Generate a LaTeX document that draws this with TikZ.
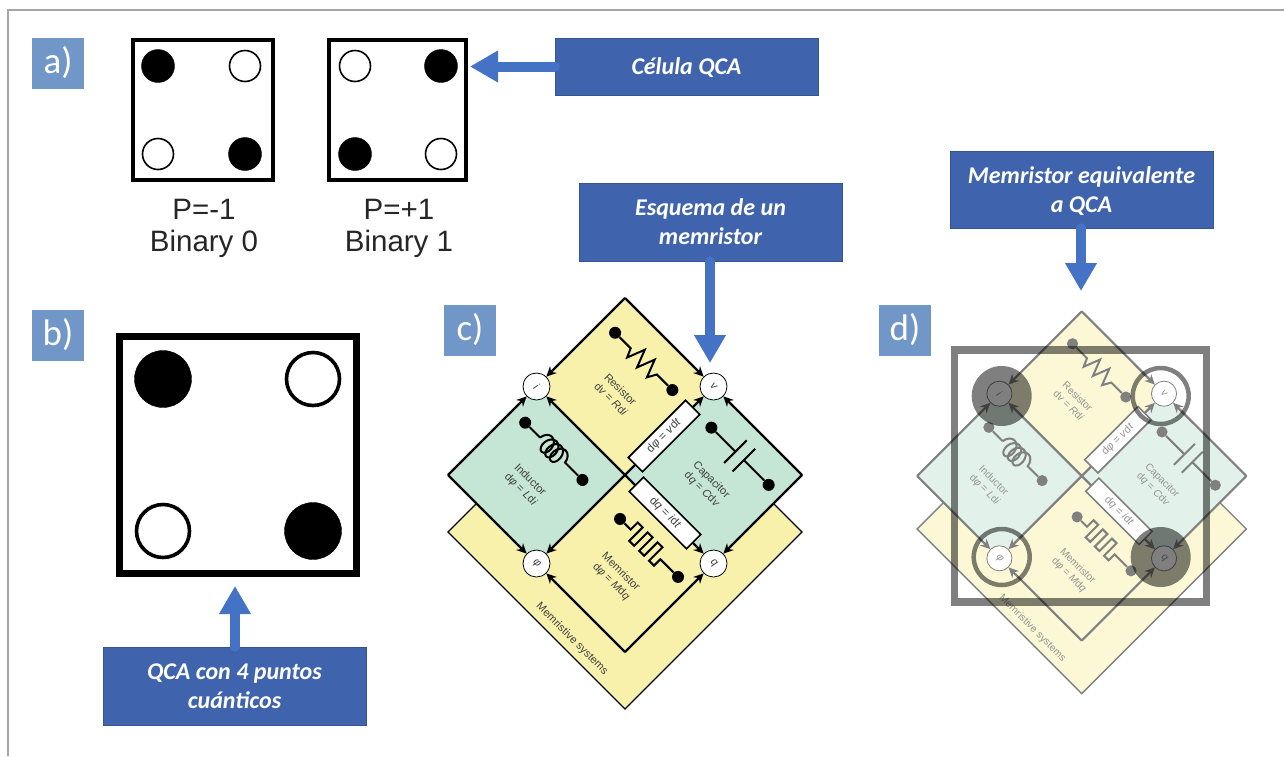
\documentclass[tikz,border=0pt]{standalone}
\usepackage{xcolor}
\usepackage{fontspec}
\setmainfont{Liberation Sans}
\newfontfamily\calibri{Carlito}
\usetikzlibrary{calc,arrows,arrows.meta,decorations.pathmorphing}

\definecolor{labelblue}{HTML}{7097C8}
\definecolor{boxblue}{HTML}{3F63AC}
\definecolor{arrowblue}{HTML}{4472C4}
\definecolor{cellyellow}{HTML}{F8F1AC}
\definecolor{cellgreen}{HTML}{C5E5D5}
\definecolor{fadeyellow}{HTML}{FCF8D6}
\definecolor{fadegreen}{HTML}{E2F2EA}

\tikzset{
    panel/.style={fill=labelblue, minimum width=52pt, minimum height=51pt, inner sep=0pt,
        text=white, font=\calibri\fontsize{37}{37}\selectfont},
    callout/.style={fill=boxblue, draw=boxblue!85!black, line width=.6pt, minimum width=263pt,
        inner sep=0pt, align=center, text=white, text depth=0pt,
        font=\calibri\fontsize{24}{29}\selectfont\bfseries\itshape},
    blockarrow/.style={draw=arrowblue, line width=10pt, line cap=round,
        -{Triangle[length=28pt,width=30pt]}},
    caption/.style={align=center, text=black!85, font=\fontsize{29.5}{32}\selectfont},
    full/.style={circle, fill=black, draw=black, inner sep=0pt},
    empty/.style={circle, fill=white, draw=black, inner sep=0pt},
    state/.style={circle, fill=white, draw=ink, line width=.8pt, minimum size=27pt,
        inner sep=0pt, font=\fontsize{11}{11}\selectfont\itshape, text=inkt, rotate=-45},
    edge/.style={draw=ink, line width=2.2pt, ->, >={Stealth[length=10pt,width=9.5pt]}},
    part/.style={draw=ink, line width=2pt},
    dot/.style={circle, fill=ink, inner sep=0pt, minimum size=12pt},
    law/.style={align=center, text=inkt, rotate=-45, font=\fontsize{11}{13.5}\selectfont},
    tag/.style={fill=white, draw=ink, line width=1.6pt, minimum width=81pt, minimum height=20pt,
        inner sep=0pt, text=inkt, font=\fontsize{11.5}{11.5}\selectfont}
}

% #1 prefix of the names, #2 yellow, #3 green
\newcommand{\memdiagram}[3]{
    \fill[#2, draw=ink, line width=1.3pt] (-177,57) -- (0,-120) -- (177,57) -- (0,234) -- cycle;
    \fill[#2] (0,-177) -- (88.5,-88.5) -- (0,0) -- (-88.5,-88.5) -- cycle;
    \fill[#2] (0,177) -- (88.5,88.5) -- (0,0) -- (-88.5,88.5) -- cycle;
    \fill[#3] (-177,0) -- (-88.5,-88.5) -- (0,0) -- (-88.5,88.5) -- cycle;
    \fill[#3] (177,0) -- (88.5,-88.5) -- (0,0) -- (88.5,88.5) -- cycle;
    \node[law, text=inkt, transform shape] (#1sys) at (-53,164) {Memristive systems};

    \node[state, transform shape] (#1i) at (-88.5,-88.5) {i};
    \node[state, transform shape] (#1v) at (88.5,-88.5) {v};
    \node[state, transform shape] (#1p) at (-88.5,88.5) {φ};
    \node[state, transform shape] (#1q) at (88.5,88.5) {q};

    \coordinate (#1top) at (0,-177);
    \coordinate (#1left) at (-177,0);
    \coordinate (#1right) at (177,0);
    \coordinate (#1bot) at (0,177);
    \coordinate (#1mid) at (0,0);
    \draw[edge] (#1top) -- (#1i);
    \draw[edge] (#1top) -- (#1v);
    \draw[edge] (#1left) -- (#1i);
    \draw[edge] (#1left) -- (#1p);
    \draw[edge] (#1right) -- (#1v);
    \draw[edge] (#1right) -- (#1q);
    \draw[edge] (#1bot) -- (#1p);
    \draw[edge] (#1bot) -- (#1q);
    \draw[edge] (#1mid) -- (#1i);
    \draw[edge] (#1mid) -- (#1v);
    \draw[edge] (#1mid) -- (#1p);
    \draw[edge] (#1mid) -- (#1q);

    \node[tag, rotate=45, transform shape] (#1vdt) at (39,-39) {d\textit{φ} = \textit{v}d\textit{t}};
    \node[tag, rotate=-45, transform shape] (#1idt) at (40,38) {d\textit{q} = \textit{i}d\textit{t}};

    % resistor
    \begin{scope}[shift={(0,-88.5)}, rotate=-45]
        \node[dot, transform shape] (#1ra) at (-45,-31) {};
        \node[dot, transform shape] (#1rb) at (36,-31) {};
        \draw[part] (#1ra) -- (-23,-31) -- (-19,-22) -- (-12,-40) -- (-5,-22) -- (2,-40)
            -- (9,-22) -- (14,-31) -- (#1rb);
        \node[law, rotate=45, transform shape] (#1rlaw) at (-1,12) {Resistor\\d\textit{v} = \textit{R}d\textit{i}};
    \end{scope}
    % inductor
    \begin{scope}[shift={(-88.5,0)}, rotate=-45]
        \node[dot, transform shape] (#1la) at (-45,-29) {};
        \node[dot, transform shape] (#1lb) at (36,-29) {};
        \draw[part] (#1la) -- (-24,-29);
        \draw[part, decorate, decoration={coil, aspect=.7, amplitude=9pt, segment length=6.5pt}]
            (-24,-29) -- (16,-29);
        \draw[part] (16,-29) -- (#1lb);
        \node[law, rotate=45, transform shape] (#1llaw) at (-1,15) {Inductor\\d\textit{φ} = \textit{L}d\textit{i}};
    \end{scope}
    % capacitor
    \begin{scope}[shift={(88.5,0)}, rotate=-45]
        \node[dot, transform shape] (#1ca) at (-35,-32) {};
        \node[dot, transform shape] (#1cb) at (46,-32) {};
        \coordinate (#1cl) at (-1,-32);
        \coordinate (#1cr) at (11,-32);
        \draw[part] (#1ca) -- (#1cl);
        \draw[part] (#1cr) -- (#1cb);
        \draw[part] (-1,-48) -- (-1,-16);
        \draw[part] (11,-48) -- (11,-16);
        \node[law, rotate=45, transform shape] (#1claw) at (2,12) {Capacitor\\d\textit{q} = \textit{C}d\textit{v}};
    \end{scope}
    % memristor
    \begin{scope}[shift={(0,88.5)}, rotate=-45]
        \node[dot, transform shape] (#1ma) at (-35,-28) {};
        \node[dot, transform shape] (#1mb) at (47,-28) {};
        \draw[part] (#1ma) -- (-20,-28) -- (-20,-38) -- (-13,-38) -- (-13,-19) -- (-6,-19)
            -- (-6,-38) -- (1,-38) -- (1,-19) -- (8,-19) -- (8,-38) -- (15,-38) -- (15,-19)
            -- (22,-19) -- (22,-28) -- (#1mb);
        \node[law, rotate=45, transform shape] (#1mlaw) at (3,16) {Memristor\\d\textit{φ} = \textit{M}d\textit{q}};
    \end{scope}
}

\begin{document}
\begin{tikzpicture}[x=1pt, y=-1pt]
    \useasboundingbox (0,0) rectangle (1284,756);
    \fill[white] (0,0) rectangle (1284,756);
    \draw[black!35, line width=1.4pt] (1284,10) -- (8,10) -- (8,756);

    \node[panel] (a) at (58,63) {a)};
    \node[panel] (b) at (58,335) {b)};
    \node[panel] (c) at (470,330) {c)};
    \node[panel] (d) at (905,330) {d)};

    % cells of panel a
    \draw[line width=3.6pt] (133,40) rectangle (273,180);
    \node[full, minimum size=33pt] (a1) at (158,66) {};
    \node[empty, line width=1.6pt, minimum size=31pt] (a2) at (245,66) {};
    \node[empty, line width=1.6pt, minimum size=31pt] (a3) at (158,154) {};
    \node[full, minimum size=33pt] (a4) at (245,154) {};
    \draw[line width=3.6pt] (329,40) rectangle (466,180);
    \node[empty, line width=1.6pt, minimum size=31pt] (a5) at (355,66) {};
    \node[full, minimum size=33pt] (a6) at (441,66) {};
    \node[full, minimum size=33pt] (a7) at (355,154) {};
    \node[empty, line width=1.6pt, minimum size=31pt] (a8) at (441,154) {};
    \node[caption] (zero) at (204,228) {P=-1\\Binary 0};
    \node[caption] (one) at (399,228) {P=+1\\Binary 1};

    % cell of panel b
    \draw[line width=7pt] (119,336) rectangle (356,573);
    \node[full, minimum size=57pt] (b1) at (163,379) {};
    \node[empty, line width=3.6pt, minimum size=53pt] (b2) at (313,379) {};
    \node[empty, line width=3.6pt, minimum size=53pt] (b3) at (163,531) {};
    \node[full, minimum size=57pt] (b4) at (313,531) {};

    % panel c
    \colorlet{ink}{black}
    \colorlet{inkt}{black!75}
    \begin{scope}[shift={(625,475)}]
        \memdiagram{c}{cellyellow}{cellgreen}
    \end{scope}

    % panel d
    \colorlet{ink}{black!50}
    \colorlet{inkt}{black!42}
    \begin{scope}[shift={(1081.7,476)}, scale=.93]
        \memdiagram{d}{fadeyellow}{fadegreen}
    \end{scope}
    \begin{scope}[opacity=.5]
        \draw[line width=7.3pt] (954.5,350) rectangle (1206.5,602);
        \node[full, draw=none, minimum size=60pt] (d1) at (1001.7,396) {};
        \node[circle, draw=black, line width=4.5pt, minimum size=56pt, inner sep=0pt] (d2) at (1160.7,396) {};
        \node[circle, draw=black, line width=4.5pt, minimum size=56pt, inner sep=0pt] (d3) at (1001.7,557) {};
        \node[full, draw=none, minimum size=60pt] (d4) at (1160.7,557) {};
    \end{scope}

    % callouts
    \node[callout, minimum height=57pt] (celula) at (686.5,66.5) {Célula QCA};
    \node[callout, minimum height=78pt] (esquema) at (710.5,222) {Esquema de un\\memristor};
    \node[callout, minimum height=77pt] (equiv) at (1081.5,189.5) {Memristor equivalente\\a QCA};
    \node[callout, minimum height=78pt] (puntos) at (234.5,686) {QCA con 4 puntos\\cuánticos};

    \coordinate (celulatip) at (470,66.5);
    \coordinate (esquematip) at (710,363);
    \coordinate (equivtip) at (1081,291);
    \coordinate (puntostip) at (235,586);
    \draw[blockarrow] (celula.west) -- (celulatip);
    \draw[blockarrow] (esquema.south -| esquematip) -- (esquematip);
    \draw[blockarrow] (equiv.south -| equivtip) -- (equivtip);
    \draw[blockarrow] (puntos.north -| puntostip) -- (puntostip);
\end{tikzpicture}
\end{document}
